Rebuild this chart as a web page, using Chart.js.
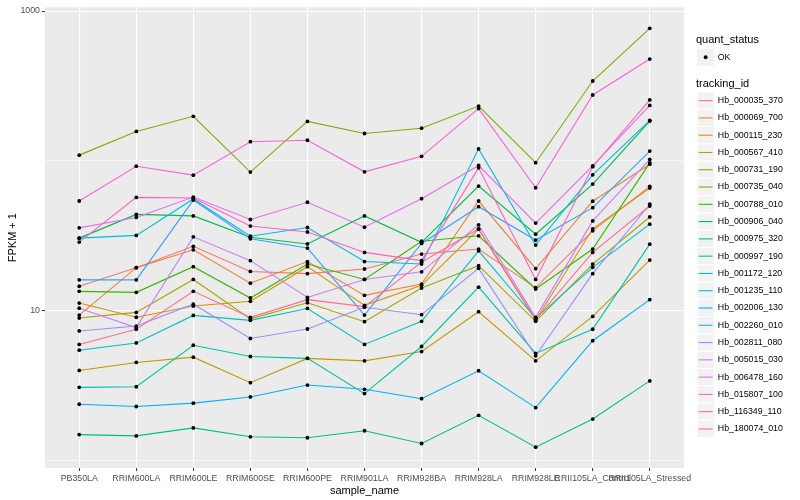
<!DOCTYPE html>
<html>
<head>
<meta charset="utf-8">
<script src="https://cdn.jsdelivr.net/npm/chart.js@4.4.0/dist/chart.umd.min.js"></script>
<style>
    html, body { margin: 0; padding: 0; background: #ffffff; }
    canvas { display: block; }
</style>
</head>
<body>
<canvas id="fpkm-chart" width="800" height="500"></canvas>
<script>
    "use strict";

    // Samples on the x axis
    var samples = ["PB350LA", "RRIM600LA", "RRIM600LE", "RRIM600SE", "RRIM600PE", "RRIM901LA",
        "RRIM928BA", "RRIM928LA", "RRIM928LE", "RRII105LA_Control", "RRII105LA_Stressed"];

    // FPKM + 1, one array per gene
    var Hb_000035_370 = [14.5, 19.3, 26.8, 18.2, 17.6, 18.9, 23.8, 25.7, 14.2, 34.0, 67.4];
    var Hb_000069_700 = [9.3, 19.3, 25.4, 15.2, 21.2, 12.6, 15.0, 53.8, 19.0, 53.6, 94.8];
    var Hb_000115_230 = [11.2, 9.0, 10.7, 11.5, 19.6, 10.8, 14.7, 34.9, 8.6, 35.1, 65.7];
    var Hb_000567_410 = [3.97, 4.49, 4.87, 3.29, 4.78, 4.60, 5.31, 9.8, 4.6, 9.12, 21.7];
    var Hb_000731_190 = [8.89, 9.7, 16.1, 8.78, 11.25, 8.41, 14.1, 19.9, 8.45, 20.4, 42.1];
    var Hb_000735_040 = [109, 157, 198, 84, 183, 152, 165, 232, 97, 341, 767];
    var Hb_000788_010 = [13.4, 13.2, 19.6, 12.1, 20.4, 16.1, 29.0, 31.5, 13.9, 25.7, 96.7];
    var Hb_000906_040 = [30.4, 43.8, 42.8, 30.8, 27.8, 42.8, 28.5, 67.7, 32.3, 69.8, 184];
    var Hb_000975_320 = [1.48, 1.45, 1.64, 1.43, 1.41, 1.57, 1.29, 1.99, 1.22, 1.88, 3.38];
    var Hb_000997_190 = [3.06, 3.09, 5.85, 4.92, 4.78, 2.78, 5.74, 14.3, 5.16, 7.48, 27.7];
    var Hb_001172_120 = [5.42, 6.06, 9.26, 8.58, 10.3, 5.92, 8.45, 25.0, 8.85, 19.4, 37.7];
    var Hb_001235_110 = [30.4, 31.7, 55.5, 31.3, 35.8, 21.2, 20.4, 120, 27.3, 80.5, 186];
    var Hb_002006_130 = [2.36, 2.28, 2.40, 2.64, 3.17, 2.97, 2.57, 3.95, 2.24, 6.27, 11.8];
    var Hb_002260_010 = [16.0, 16.0, 54.6, 30.1, 26.1, 9.31, 28.0, 49.3, 29.5, 48.6, 116];
    var Hb_002811_080 = [7.29, 7.86, 11.0, 6.49, 7.51, 10.5, 9.36, 19.1, 4.97, 17.6, 51.2];
    var Hb_005015_030 = [10.35, 7.67, 31.0, 21.5, 12.2, 16.1, 18.1, 37.3, 8.98, 39.6, 102];
    var Hb_006478_160 = [35.6, 41.8, 57.2, 40.5, 52.8, 36.0, 55.8, 92.9, 38.3, 92.3, 234];
    var Hb_015807_100 = [53.8, 91.9, 80.1, 134, 137, 84.3, 107, 223, 66.0, 275, 478];
    var Hb_116349_110 = [28.6, 56.9, 56.3, 36.6, 33.4, 24.4, 21.5, 89.6, 16.1, 91.2, 255];
    var Hb_180074_010 = [5.92, 7.48, 13.4, 8.98, 11.8, 10.6, 21.0, 35.1, 8.71, 24.4, 49.8];

    var trackingIds = ["Hb_000035_370", "Hb_000069_700", "Hb_000115_230", "Hb_000567_410", "Hb_000731_190",
        "Hb_000735_040", "Hb_000788_010", "Hb_000906_040", "Hb_000975_320", "Hb_000997_190",
        "Hb_001172_120", "Hb_001235_110", "Hb_002006_130", "Hb_002260_010", "Hb_002811_080",
        "Hb_005015_030", "Hb_006478_160", "Hb_015807_100", "Hb_116349_110", "Hb_180074_010"];
    var series = [Hb_000035_370, Hb_000069_700, Hb_000115_230, Hb_000567_410, Hb_000731_190,
        Hb_000735_040, Hb_000788_010, Hb_000906_040, Hb_000975_320, Hb_000997_190,
        Hb_001172_120, Hb_001235_110, Hb_002006_130, Hb_002260_010, Hb_002811_080,
        Hb_005015_030, Hb_006478_160, Hb_015807_100, Hb_116349_110, Hb_180074_010];

    // ggplot hue palette, 20 levels
    var colors = ["#F8766D", "#EA8331", "#D89000", "#C09B00", "#A3A500", "#7CAE00", "#39B600", "#00BB4E",
        "#00BF7D", "#00C1A3", "#00BFC4", "#00BAE0", "#00B0F6", "#35A2FF", "#9590FF", "#C77CFF",
        "#E76BF3", "#FA62DB", "#FF62BC", "#FF6C91"];

    // y breaks: labelled majors and unlabelled minors
    var yBreaks = [1, 10, 100, 1000];
    var yLabelled = [10, 1000];

    var FONT = '"Liberation Sans", Arial, Helvetica, sans-serif';


    // Datasets
    var datasets = [];
    var points = [];
    series.forEach(function (values, i) {
        datasets.push({
            type: "line",
            label: trackingIds[i],
            data: values.map(function (v, j) { return {x: j, y: v}; }),
            borderColor: colors[i],
            backgroundColor: colors[i],
            borderWidth: 1.1,
            pointRadius: 0,
            tension: 0,
            order: 20 - i
        });
        values.forEach(function (v, j) { points.push({x: j, y: v}); });
    });
    datasets.push({
        type: "line",
        label: "OK",
        data: points,
        showLine: false,
        pointRadius: 1.9,
        pointBorderWidth: 0,
        pointBackgroundColor: "#000000",
        order: 0
    });


    // Panel background, axis titles and legend
    var ggPlot = {
        id: "ggPlot",
        beforeDraw: function (chart) {
            var a = chart.chartArea, ctx = chart.ctx;
            ctx.save();
            ctx.fillStyle = "#FFFFFF";
            ctx.fillRect(0, 0, chart.width, chart.height);
            ctx.fillStyle = "#EBEBEB";
            ctx.fillRect(a.left, a.top, a.right - a.left, a.bottom - a.top);
            ctx.restore();
        },
        afterDraw: function (chart) {
            var a = chart.chartArea, ctx = chart.ctx;
            ctx.save();
            ctx.fillStyle = "#000000";
            ctx.font = "11px " + FONT;
            ctx.textAlign = "center";
            ctx.textBaseline = "middle";
            ctx.fillText("sample_name", (a.left + a.right) / 2, 491);
            ctx.save();
            ctx.translate(13, (a.top + a.bottom) / 2);
            ctx.rotate(-Math.PI / 2);
            ctx.fillText("FPKM + 1", 0, 0);
            ctx.restore();

            // legend
            var lx = 697, key = 17.28;
            ctx.textAlign = "left";
            ctx.fillText("quant_status", 696, 40);
            ctx.fillStyle = "#F2F2F2";
            ctx.fillRect(lx, 48.6, key, key);
            ctx.fillStyle = "#000000";
            ctx.beginPath();
            ctx.arc(lx + key / 2, 48.6 + key / 2, 1.9, 0, Math.PI * 2);
            ctx.fill();
            ctx.font = "8.8px " + FONT;
            ctx.fillText("OK", lx + key + 3.5, 48.6 + key / 2);

            ctx.font = "11px " + FONT;
            ctx.fillText("tracking_id", 696, 84);
            ctx.font = "8.8px " + FONT;
            trackingIds.forEach(function (id, i) {
                var y0 = 92 + i * key;
                ctx.fillStyle = "#F2F2F2";
                ctx.fillRect(lx, y0, key, key);
                ctx.strokeStyle = "#FFFFFF";
                ctx.lineWidth = 1;
                ctx.strokeRect(lx, y0, key, key);
                ctx.strokeStyle = colors[i];
                ctx.lineWidth = 1.1;
                ctx.beginPath();
                ctx.moveTo(lx + 1.7, y0 + key / 2);
                ctx.lineTo(lx + key - 1.7, y0 + key / 2);
                ctx.stroke();
                ctx.fillStyle = "#000000";
                ctx.fillText(id, lx + key + 3.5, y0 + key / 2);
            });
            ctx.restore();
        }
    };


    // FPKM chart
    var ctx1 = document.getElementById("fpkm-chart").getContext("2d");
    var myChart1 = new Chart(ctx1, {
        type: "line",
        data: {datasets: datasets},
        plugins: [ggPlot],
        options: {
            responsive: false,
            animation: false,
            devicePixelRatio: 1,
            layout: {padding: {left: 0, right: 116, top: 5, bottom: 0}},
            plugins: {legend: {display: false}, tooltip: {enabled: false}},
            scales: {
                x: {
                    type: "linear",
                    min: -0.6,
                    max: 10.6,
                    afterBuildTicks: function (scale) {
                        scale.ticks = samples.map(function (s, i) { return {value: i}; });
                    },
                    afterFit: function (scale) { scale.height = 32; },
                    border: {display: false},
                    grid: {color: "#FFFFFF", lineWidth: 1.1, tickColor: "#333333", tickLength: 3, tickWidth: 1},
                    ticks: {
                        autoSkip: false,
                        maxRotation: 0,
                        minRotation: 0,
                        padding: 2,
                        color: "#4D4D4D",
                        font: {family: FONT, size: 8.8},
                        callback: function (v) { return samples[v]; }
                    }
                },
                y: {
                    type: "logarithmic",
                    min: 0.885,
                    max: 1060,
                    afterBuildTicks: function (scale) {
                        scale.ticks = yBreaks.map(function (v) { return {value: v}; });
                    },
                    afterFit: function (scale) { scale.width = 45; },
                    border: {display: false},
                    grid: {
                        color: "#FFFFFF",
                        lineWidth: function (c) {
                            return c.tick && yLabelled.indexOf(c.tick.value) >= 0 ? 1.1 : 0.55;
                        },
                        tickColor: function (c) {
                            return c.tick && yLabelled.indexOf(c.tick.value) >= 0 ? "#333333" : "rgba(0,0,0,0)";
                        },
                        tickLength: 3,
                        tickWidth: 1
                    },
                    ticks: {
                        autoSkip: false,
                        padding: 2,
                        color: "#4D4D4D",
                        font: {family: FONT, size: 8.8},
                        callback: function (v) { return yLabelled.indexOf(v) >= 0 ? String(v) : ""; }
                    }
                }
            }
        }
    });
</script>
</body>
</html>
